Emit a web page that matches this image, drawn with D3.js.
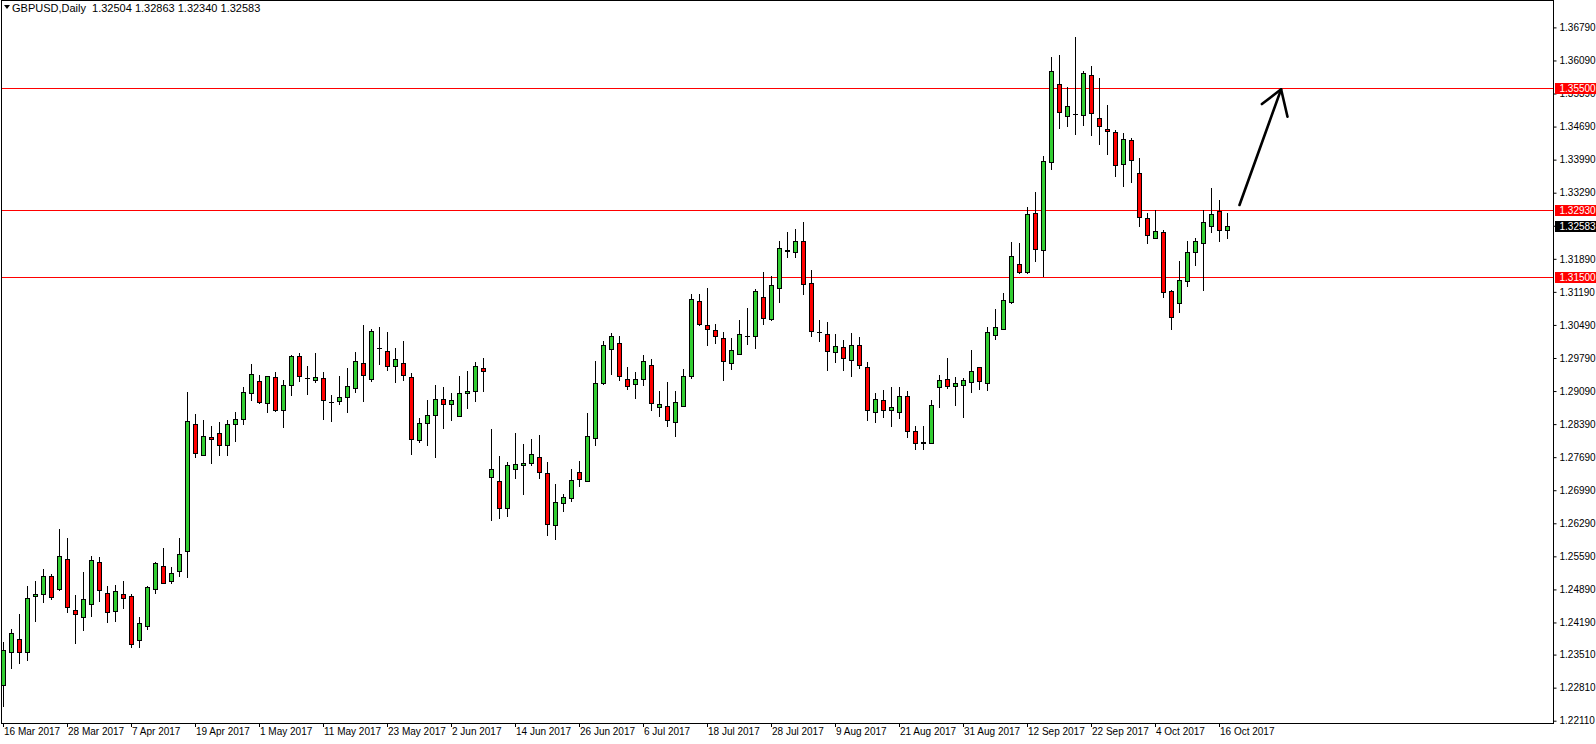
<!DOCTYPE html>
<html><head><meta charset="utf-8">
<script src="https://cdn.jsdelivr.net/npm/d3@7"></script>
<style>
html,body{margin:0;padding:0;background:#fff;}
svg{display:block;font-family:"Liberation Sans",Arial,sans-serif;}
</style></head><body>
<svg id="chart" width="1596" height="744"></svg>
<script>
// ---------------- DATA ----------------
const titleText = "GBPUSD,Daily  1.32504 1.32863 1.32340 1.32583";
const firstDate = "2017-03-16";

const open = [
1.2286,1.2357,1.2385,1.2357,1.2474,1.2479,1.2517,1.2489,1.2553,1.2445,
1.2430,1.2458,1.2546,1.2481,1.2443,1.2479,1.2474,1.2381,1.2411,1.2489,
1.2538,1.2506,1.2527,1.2570,1.2839,1.2773,1.2811,1.2820,1.2794,1.2839,
1.2849,1.2904,1.2930,1.2883,1.2938,1.2868,1.2921,1.2983,1.2937,1.2932,
1.2936,1.2885,1.2887,1.2896,1.2915,1.2968,1.2934,1.3000,1.2993,1.2962,
1.2968,1.2938,1.2805,1.2841,1.2858,1.2892,1.2881,1.2856,1.2904,1.2909,
1.2957,1.2728,1.2718,1.2661,1.2745,1.2752,1.2756,1.2769,1.2735,1.2625,
1.2671,1.2682,1.2737,1.2718,1.2809,1.2926,1.2998,1.3010,1.2934,1.2923,
1.2934,1.2964,1.2875,1.2877,1.2843,1.2877,1.2940,1.3099,1.3048,1.3038,
1.3021,1.2968,1.2987,1.3025,1.3025,1.3108,1.3061,1.3127,1.3206,1.3204,
1.3226,1.3137,1.3034,1.3029,1.2991,1.3002,1.2974,1.3006,1.2959,1.2864,
1.2890,1.2868,1.2864,1.2898,1.2824,1.2798,1.2798,1.2917,1.2934,1.2919,
1.2921,1.2928,1.2959,1.2926,1.3027,1.3040,1.3097,1.3179,1.3162,1.3285,
1.3207,1.3393,1.3559,1.3491,1.3495,1.3493,1.3578,1.3487,1.3463,1.3457,
1.3389,1.3440,1.3370,1.3275,1.3234,1.3245,1.3121,1.3095,1.3142,1.3204,
1.3222,1.3258,1.3290,1.32504
];
const high = [
1.2378,1.2405,1.2436,1.2496,1.2507,1.2532,1.2522,1.2617,1.2598,1.2477,
1.2526,1.2560,1.2558,1.2496,1.2498,1.2507,1.2479,1.2431,1.2496,1.2548,
1.2577,1.2536,1.2598,1.2906,1.2860,1.2848,1.2835,1.2844,1.2848,1.2865,
1.2918,1.2966,1.2943,1.2940,1.2949,1.2932,1.2985,1.2989,1.2962,1.2989,
1.2949,1.2900,1.2941,1.2957,1.2991,1.3049,1.3040,1.3044,1.3034,1.3000,
1.3015,1.2947,1.2851,1.2890,1.2921,1.2917,1.2904,1.2940,1.2951,1.2970,
1.2979,1.2829,1.2771,1.2758,1.2820,1.2796,1.2807,1.2815,1.2758,1.2712,
1.2692,1.2745,1.2760,1.2862,1.2972,1.3015,1.3032,1.3025,1.2959,1.2949,
1.2985,1.2976,1.2909,1.2928,1.2909,1.2955,1.3115,1.3115,1.3127,1.3052,
1.3034,1.3021,1.3059,1.3084,1.3125,1.3161,1.3152,1.3226,1.3245,1.3253,
1.3268,1.3165,1.3059,1.3055,1.3029,1.3017,1.3032,1.3023,1.2970,1.2904,
1.2911,1.2918,1.2918,1.2909,1.2834,1.2836,1.2890,1.2943,1.2979,1.2938,
1.2936,1.2996,1.2959,1.3044,1.3082,1.3116,1.3224,1.3222,1.3298,1.3330,
1.3406,1.3616,1.3620,1.3552,1.3658,1.3586,1.3597,1.3571,1.3514,1.3461,
1.3455,1.3444,1.3402,1.3287,1.3292,1.3249,1.3123,1.3184,1.3226,1.3234,
1.3292,1.3338,1.3313,1.32863
];
const low = [
1.2242,1.2323,1.2334,1.2339,1.2423,1.2463,1.2469,1.2488,1.2442,1.2376,
1.2403,1.2433,1.2465,1.2419,1.2423,1.2450,1.2366,1.2366,1.2405,1.2481,
1.2502,1.2502,1.2517,1.2516,1.2770,1.2773,1.2757,1.2773,1.2774,1.2804,
1.2839,1.2889,1.2883,1.2864,1.2866,1.2833,1.2900,1.2930,1.2902,1.2928,
1.2849,1.2845,1.2881,1.2865,1.2906,1.2887,1.2930,1.2966,1.2953,1.2928,
1.2932,1.2775,1.2802,1.2794,1.2769,1.2830,1.2847,1.2856,1.2873,1.2887,
1.2909,1.2635,1.2640,1.2644,1.2724,1.2690,1.2752,1.2724,1.2604,1.2595,
1.2654,1.2676,1.2707,1.2718,1.2794,1.2923,1.2945,1.2932,1.2913,1.2894,
1.2921,1.2868,1.2856,1.2834,1.2813,1.2877,1.2936,1.3048,1.3006,1.3010,
1.2932,1.2955,1.2987,1.3008,1.3000,1.3052,1.3059,1.3097,1.3192,1.3192,
1.3114,1.3025,1.3015,1.2953,1.2970,1.2953,1.2940,1.2957,1.2847,1.2843,
1.2853,1.2834,1.2851,1.2811,1.2786,1.2786,1.2798,1.2875,1.2915,1.2879,
1.2854,1.2906,1.2913,1.2911,1.3019,1.3040,1.3095,1.3160,1.3158,1.3184,
1.3152,1.3379,1.3466,1.3470,1.3453,1.3472,1.3451,1.3432,1.3410,1.3364,
1.3343,1.3351,1.3258,1.3222,1.3234,1.3108,1.3040,1.3076,1.3131,1.3175,
1.3123,1.3245,1.3226,1.32340
];
const close = [
1.2360,1.2396,1.2357,1.2470,1.2479,1.2517,1.2472,1.2559,1.2452,1.2436,
1.2468,1.2551,1.2487,1.2441,1.2485,1.2470,1.2373,1.2417,1.2494,1.2544,
1.2502,1.2523,1.2563,1.2845,1.2777,1.2813,1.2807,1.2794,1.2839,1.2849,
1.2906,1.2945,1.2885,1.2940,1.2868,1.2921,1.2983,1.2940,1.2937,1.2938,
1.2890,1.2885,1.2896,1.2919,1.2972,1.2943,1.3036,1.3000,1.2962,1.2976,
1.2943,1.2807,1.2841,1.2858,1.2892,1.2881,1.2890,1.2904,1.2909,1.2962,
1.2951,1.2743,1.2661,1.2752,1.2754,1.2756,1.2775,1.2737,1.2627,1.2674,
1.2684,1.2720,1.2722,1.2813,1.2926,1.3006,1.3025,1.2940,1.2919,1.2934,
1.2972,1.2883,1.2881,1.2847,1.2885,1.2940,1.3103,1.3050,1.3040,1.3025,
1.2972,1.2996,1.3029,1.3025,1.3120,1.3063,1.3133,1.3211,1.3207,1.3226,
1.3135,1.3036,1.3034,1.2993,1.3004,1.2979,1.3006,1.2964,1.2868,1.2892,
1.2868,1.2875,1.2898,1.2824,1.2798,1.2802,1.2879,1.2932,1.2919,1.2926,
1.2932,1.2951,1.2930,1.3034,1.3044,1.3101,1.3194,1.3162,1.3283,1.3209,
1.3396,1.3586,1.3499,1.3512,1.3495,1.3582,1.3497,1.3470,1.3459,1.3387,
1.3442,1.3398,1.3277,1.3239,1.3247,1.3119,1.3066,1.3144,1.3204,1.3226,
1.3266,1.3283,1.3251,1.32583
];

const levels = [1.35500, 1.32930, 1.31500];
const currentPrice = 1.32583;
const yTickValues = [1.36790,1.36090,1.35390,1.34690,1.33990,1.33290,1.32590,1.31890,
  1.31190,1.30490,1.29790,1.29090,1.28390,1.27690,1.26990,1.26290,1.25590,1.24890,
  1.24190,1.23510,1.22810,1.22110];
const xTickLabels = ["16 Mar 2017","28 Mar 2017","7 Apr 2017","19 Apr 2017","1 May 2017",
  "11 May 2017","23 May 2017","2 Jun 2017","14 Jun 2017","26 Jun 2017","6 Jul 2017",
  "18 Jul 2017","28 Jul 2017","9 Aug 2017","21 Aug 2017","31 Aug 2017","12 Sep 2017",
  "22 Sep 2017","4 Oct 2017","16 Oct 2017"];
// hand-drawn arrow annotation: [bar position, price]
const arrowLine = [[154.5, 1.33030], [159.7, 1.35479]];
const arrowHead = [[157.3, 1.35168], [159.7, 1.35479], [160.5, 1.34899]];

// ---------------- BUILD ----------------
const parse = d3.timeParse("%Y-%m-%d");
const fmt = d3.timeFormat("%-d %b %Y");
const dates = [];
{ let d = parse(firstDate);
  while (dates.length < open.length) {
    const wd = d.getDay();
    if (wd !== 0 && wd !== 6) dates.push(d);
    d = d3.timeDay.offset(d, 1);
  } }
const bars = open.map((o, i) => ({i, date: dates[i], o, h: high[i], l: low[i], c: close[i]}));

const W = 1596, H = 744;
const plotR = 1553, plotB = 723;
const svg = d3.select("#chart");

const x = d3.scaleLinear().domain([0, bars.length - 1]).range([3.5, 3.5 + 8 * (bars.length - 1)]);
const y = d3.scaleLinear().domain([1.22110, 1.36790]).range([720.7, 27.4]);
const ry = v => Math.round(y(v));

svg.append("rect").attr("width", W).attr("height", H).attr("fill", "#fff");

svg.append("defs").append("clipPath").attr("id", "clip")
  .append("rect").attr("x", 2).attr("y", 1).attr("width", plotR - 2).attr("height", plotB - 1);

const plot = svg.append("g").attr("clip-path", "url(#clip)");

// horizontal levels
plot.selectAll("line.level").data(levels).join("line")
  .attr("class", "level")
  .attr("x1", 0).attr("x2", plotR)
  .attr("y1", d => ry(d) + 0.5).attr("y2", d => ry(d) + 0.5)
  .attr("stroke", "#ff0000").attr("stroke-width", 1);

// candles
const cg = plot.selectAll("g.bar").data(bars).join("g").attr("class", "bar");
cg.append("line")
  .attr("x1", d => x(d.i)).attr("x2", d => x(d.i))
  .attr("y1", d => ry(d.h)).attr("y2", d => ry(d.l) + 1)
  .attr("stroke", "#000").attr("stroke-width", 1);
cg.each(function(d) {
  const g = d3.select(this);
  const top = ry(Math.max(d.o, d.c)), bot = ry(Math.min(d.o, d.c));
  if (bot - top < 1) {
    g.append("line")
      .attr("x1", x(d.i) - 2.5).attr("x2", x(d.i) + 2.5)
      .attr("y1", top + 0.5).attr("y2", top + 0.5)
      .attr("stroke", "#000").attr("stroke-width", 1);
  } else {
    g.append("rect")
      .attr("x", x(d.i) - 2).attr("width", 4)
      .attr("y", top + 0.5).attr("height", bot - top)
      .attr("fill", d.c >= d.o ? "#32cd32" : "#ff0000")
      .attr("stroke", "#000").attr("stroke-width", 1);
  }
});

// arrow annotation
const lineGen = d3.line().x(p => x(p[0])).y(p => y(p[1]));
plot.append("path").attr("d", lineGen(arrowLine))
  .attr("fill", "none").attr("stroke", "#000").attr("stroke-width", 2.6).attr("stroke-linecap", "round");
plot.append("path").attr("d", lineGen(arrowHead))
  .attr("fill", "none").attr("stroke", "#000").attr("stroke-width", 2.6)
  .attr("stroke-linecap", "round").attr("stroke-linejoin", "round");

// frame
svg.append("rect").attr("x", 1.5).attr("y", 0.5).attr("width", plotR - 1).attr("height", plotB)
  .attr("fill", "none").attr("stroke", "#000").attr("stroke-width", 1);

// right axis
const yAxis = d3.axisRight(y).tickValues(yTickValues).tickSize(3).tickPadding(3)
  .tickFormat(d3.format(".5f"));
const ya = svg.append("g").attr("transform", `translate(${plotR + 0.5},0)`).call(yAxis);
ya.select(".domain").remove();
ya.selectAll("text").attr("font-family", "Liberation Sans, Arial, sans-serif").attr("font-size", 10).attr("fill", "#000");
ya.selectAll("line").attr("stroke", "#000");

// bottom axis
const tickIdx = xTickLabels.map(lbl => ({lbl, i: dates.findIndex(d => fmt(d) === lbl)})).filter(t => t.i >= 0);
const xa = svg.append("g");
xa.selectAll("line").data(tickIdx).join("line")
  .attr("x1", t => x(t.i)).attr("x2", t => x(t.i))
  .attr("y1", plotB).attr("y2", plotB + 4)
  .attr("stroke", "#000");
xa.selectAll("text").data(tickIdx).join("text")
  .attr("x", t => x(t.i) + 0.5).attr("y", plotB + 12)
  .attr("font-size", 10).attr("fill", "#000")
  .text(t => t.lbl);

// price labels on axis
const labs = levels.map(v => ({v, bg: "#ff0000"})).concat([{v: currentPrice, bg: "#000"}]);
const lg = svg.selectAll("g.plabel").data(labs).join("g").attr("class", "plabel");
lg.append("rect").attr("x", plotR + 2).attr("y", d => ry(d.v) - 5).attr("width", W - plotR - 2).attr("height", 11)
  .attr("fill", d => d.bg);
lg.append("text").attr("x", plotR + 6.5).attr("y", d => ry(d.v) + 0.5).attr("dy", "0.35em")
  .attr("font-size", 10).attr("fill", "#fff").text(d => d3.format(".5f")(d.v));

// title
svg.append("path").attr("d", "M4,5 L10,5 L7,9 Z").attr("fill", "#000");
svg.append("text").attr("x", 12).attr("y", 11.5).attr("font-size", 11).attr("fill", "#000")
  .style("white-space", "pre").text(titleText);
</script>
</body></html>
